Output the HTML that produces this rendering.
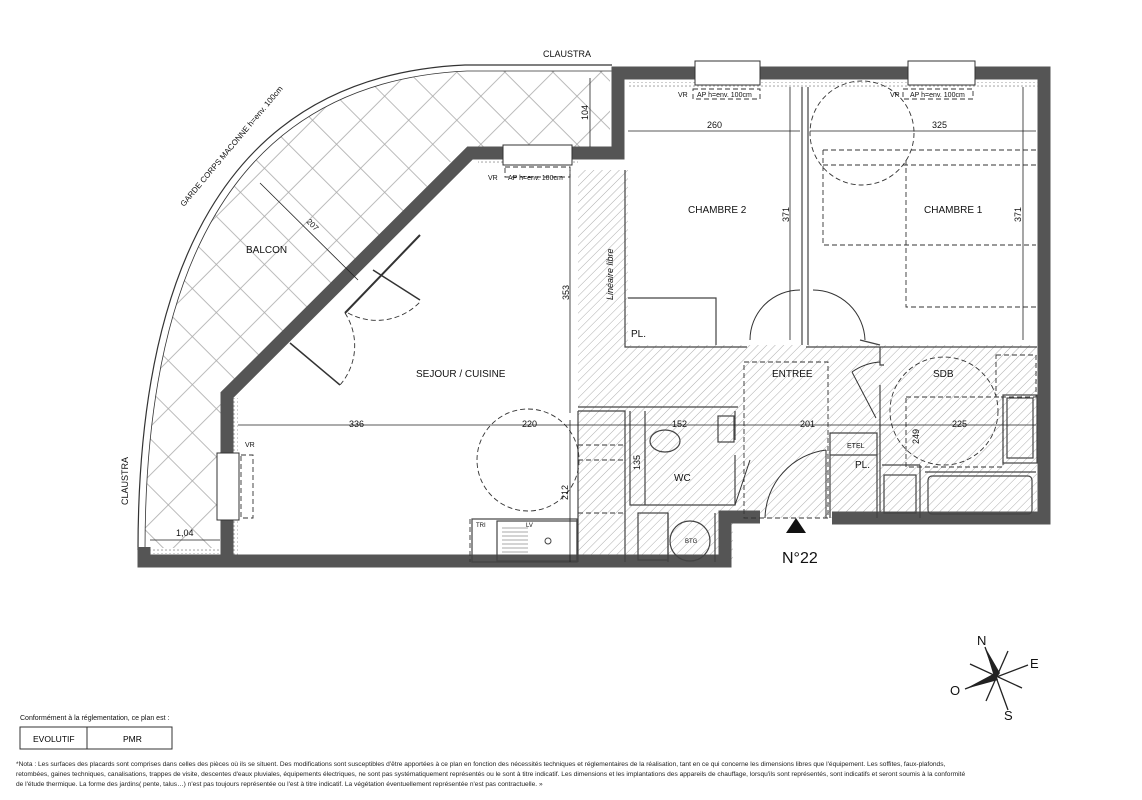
<!DOCTYPE html>
<html><head><meta charset="utf-8"><style>
body{margin:0;background:#fff;}
svg{display:block;font-family:"Liberation Sans",sans-serif;}
</style></head><body>
<svg width="1142" height="800" viewBox="0 0 1142 800" xmlns="http://www.w3.org/2000/svg">
<defs>
<pattern id="h1" width="6" height="6" patternUnits="userSpaceOnUse" patternTransform="rotate(45)">
<line x1="0" y1="0" x2="0" y2="6" stroke="#999" stroke-width="0.8"/></pattern>
<pattern id="grid" width="34" height="34" patternUnits="userSpaceOnUse" patternTransform="rotate(45)">
<rect width="34" height="34" fill="none" stroke="#aaa" stroke-width="0.8"/></pattern>
<pattern id="ins" width="4" height="4" patternUnits="userSpaceOnUse">
<circle cx="2" cy="2" r="0.8" fill="#999"/></pattern>
</defs>
<!-- balcony -->
<path d="M145,548 C145,282 226,82 467,71 L610,71 L610,147 L465,147 L227,393 L227,548 Z" fill="url(#grid)"/>
<path d="M138,550 C138,280 220,76 465,65 L612,65" fill="none" stroke="#333" stroke-width="1.2"/>
<path d="M145,550 C145,282 226,82 467,71 L612,71" fill="none" stroke="#333" stroke-width="0.8"/>
<!-- hatched corridor areas -->
<path d="M578,170 L628,170 L628,345 L880,345 L880,518 L760,518 L760,515 L733,515 L733,562 L578,562 Z" fill="url(#h1)"/>
<path d="M880,345 L1037,345 L1037,512 L880,512 Z" fill="url(#h1)"/>
<!-- insulation strips -->
<rect x="628" y="82" width="410" height="5" fill="url(#ins)"/>
<rect x="478" y="160" width="100" height="5" fill="url(#ins)"/>
<rect x="233" y="398" width="5" height="157" fill="url(#ins)"/>
<rect x="150" y="548" width="77" height="6" fill="url(#ins)"/>
<!-- walls -->
<g fill="none" stroke="#555" stroke-width="13" stroke-linejoin="miter">
<polyline points="144,547 144,561 725,561 725,517 760,517"/>
<polyline points="832,518 1044,518 1044,73 618,73 618,153 470,153 227,395 227,561"/>
</g>
<!-- windows -->
<g fill="#fff" stroke="#333" stroke-width="1">
<rect x="695" y="61" width="65" height="24"/>
<rect x="908" y="61" width="67" height="24"/>
<rect x="503" y="145" width="69" height="20"/>
<rect x="217" y="453" width="22" height="67"/>
</g>
<!-- interior walls -->
<g fill="none" stroke="#444" stroke-width="1.2">
<polyline points="625,170 625,347 747,347"/>
<polyline points="628,298 716,298 716,345"/>
<line x1="802" y1="87" x2="802" y2="345"/><line x1="808" y1="87" x2="808" y2="345"/>
<line x1="806" y1="347" x2="880" y2="347"/>
<polyline points="880,347 1037,347"/>
<polyline points="880,347 880,365 884,365"/>
<line x1="578" y1="407" x2="738" y2="407"/>
<polyline points="578,411 625,411 625,562"/>
<polyline points="630,411 630,505 735,505 735,455"/>
<polyline points="645,411 645,505"/>
<polyline points="735,411 735,440"/>
<line x1="578" y1="411" x2="578" y2="562"/>
<rect x="638" y="513" width="30" height="47"/>
<line x1="668" y1="513" x2="668" y2="562"/>
<line x1="715" y1="513" x2="715" y2="562"/>
<polyline points="830,518 830,433 877,433 877,518"/>
<line x1="830" y1="455" x2="877" y2="455"/>
<polyline points="880,385 880,512"/>
<line x1="882" y1="465" x2="920" y2="465"/>
<line x1="920" y1="465" x2="920" y2="518"/>
<line x1="925" y1="472" x2="1036" y2="472"/>
<rect x="928" y="476" width="104" height="38" rx="4"/>
<rect x="1007" y="398" width="26" height="60"/>
<rect x="1003" y="395" width="34" height="68"/>
<rect x="472" y="519" width="105" height="43"/>
<rect x="497" y="521" width="80" height="40"/>
<rect x="884" y="475" width="32" height="38"/>
<rect x="718" y="416" width="16" height="26"/>
<ellipse cx="665" cy="441" rx="15" ry="11"/>
<circle cx="690" cy="541" r="20"/>
<line x1="860" y1="340" x2="880" y2="345"/>
</g>
<!-- sink -->
<g stroke="#555" stroke-width="0.6">
<line x1="502" y1="528" x2="528" y2="528"/><line x1="502" y1="532" x2="528" y2="532"/><line x1="502" y1="536" x2="528" y2="536"/><line x1="502" y1="540" x2="528" y2="540"/><line x1="502" y1="544" x2="528" y2="544"/><line x1="502" y1="548" x2="528" y2="548"/><line x1="502" y1="552" x2="528" y2="552"/>
</g>
<circle cx="548" cy="541" r="3" fill="none" stroke="#444"/>
<!-- doors -->
<g fill="none" stroke="#333" stroke-width="1">
<path d="M750,340 A50,50 0 0 1 800,290"/>
<path d="M813,290 A52,52 0 0 1 865,340"/>
<path d="M765,518 A70,70 0 0 1 826,450"/>
<line x1="826" y1="450" x2="826" y2="518"/>
<line x1="852" y1="372" x2="876" y2="418"/>
<path d="M852,372 A55,55 0 0 1 880,362"/>
<line x1="750" y1="460" x2="735" y2="505"/>
<line x1="345" y1="313" x2="420" y2="235" stroke-width="2"/>
<line x1="373" y1="270" x2="420" y2="300" stroke-width="1.5"/>
<line x1="290" y1="343" x2="340" y2="385" stroke-width="1.5"/>
</g>
<g fill="none" stroke="#333" stroke-dasharray="5,3" stroke-width="0.9">
<path d="M348,313 A60,60 0 0 0 420,302"/>
<path d="M345,313 A60,60 0 0 1 340,385"/>
<circle cx="528" cy="460" r="51"/>
<circle cx="862" cy="133" r="52"/>
<circle cx="944" cy="411" r="54"/>
<polyline points="823,165 1036,165"/><polyline points="823,150 1036,150"/>
<polyline points="823,150 823,245 1036,245"/>
<polyline points="906,160 906,307 1036,307"/>
<rect x="744" y="362" width="84" height="156"/>
<rect x="906" y="397" width="97" height="70"/>
<rect x="996" y="355" width="40" height="42"/>
<line x1="470" y1="519" x2="470" y2="562"/>
<line x1="578" y1="460" x2="625" y2="460"/><line x1="578" y1="445" x2="625" y2="445"/>
<line x1="578" y1="513" x2="625" y2="513"/>
<rect x="693" y="89" width="67" height="10"/><rect x="903" y="89" width="70" height="10"/><rect x="505" y="167" width="65" height="10"/><rect x="241" y="455" width="12" height="63"/>
</g>
<!-- dimension lines -->
<g stroke="#222" stroke-width="0.8" fill="none">
<line x1="238" y1="425" x2="575" y2="425"/>
<line x1="575" y1="425" x2="1036" y2="425"/>
<line x1="570" y1="170" x2="570" y2="413"/>
<line x1="570" y1="420" x2="570" y2="562"/>
<line x1="628" y1="131" x2="800" y2="131"/>
<line x1="810" y1="131" x2="1036" y2="131"/>
<line x1="790" y1="87" x2="790" y2="340"/>
<line x1="1023" y1="87" x2="1023" y2="340"/>
<line x1="590" y1="78" x2="590" y2="147"/>
<line x1="150" y1="540" x2="220" y2="540"/>
<line x1="260" y1="183" x2="358" y2="280"/>
</g>
<!-- labels -->
<g fill="#111" font-size="10">
<text x="246" y="253">BALCON</text>
<text x="416" y="377">SEJOUR / CUISINE</text>
<text x="688" y="213">CHAMBRE 2</text>
<text x="924" y="213">CHAMBRE 1</text>
<text x="772" y="377">ENTREE</text>
<text x="933" y="377">SDB</text>
<text x="674" y="481">WC</text>
<text x="631" y="337">PL.</text>
<text x="855" y="468">PL.</text>
<text x="349" y="427" font-size="9">336</text>
<text x="522" y="427" font-size="9">220</text>
<text x="672" y="427" font-size="9">152</text>
<text x="800" y="427" font-size="9">201</text>
<text x="952" y="427" font-size="9">225</text>
<text x="707" y="128" font-size="9">260</text>
<text x="932" y="128" font-size="9">325</text>
<text x="176" y="536" font-size="9">1,04</text>
<text x="847" y="448" font-size="7">ETEL</text>
<text x="685" y="543" font-size="6">BTG</text>
<text x="476" y="527" font-size="6">TRI</text>
<text x="526" y="527" font-size="6">LV</text>
<text x="678" y="97" font-size="7">VR</text><text x="697" y="97" font-size="7">AP h=env. 100cm</text>
<text x="890" y="97" font-size="7">VR</text><text x="910" y="97" font-size="7">AP h=env. 100cm</text>
<text x="488" y="180" font-size="7">VR</text><text x="508" y="180" font-size="7">AP h=env. 100cm</text>
<text x="245" y="447" font-size="7">VR</text>
<text x="543" y="57" font-size="9">CLAUSTRA</text>
<text x="782" y="563" font-size="16">N°22</text>
<text x="20" y="720" font-size="7">Conformément à la réglementation, ce plan est :</text>
</g>
<g fill="#111" font-size="9">
<text transform="translate(569,300) rotate(-90)">353</text>
<text transform="translate(789,222) rotate(-90)">371</text>
<text transform="translate(1021,222) rotate(-90)">371</text>
<text transform="translate(588,120) rotate(-90)">104</text>
<text transform="translate(568,500) rotate(-90)">212</text>
<text transform="translate(640,470) rotate(-90)">135</text>
<text transform="translate(919,444) rotate(-90)">249</text>
<text transform="translate(613,300) rotate(-90)" font-style="italic">Linéaire libre</text>
<text transform="translate(128,505) rotate(-90)">CLAUSTRA</text>
<text transform="translate(184,207) rotate(-50)" font-size="8">GARDE CORPS MACONNE h=env. 100cm</text>
<text transform="translate(306,222) rotate(45)" font-size="8">207</text>
</g>
<polygon points="786,533 796,518 806,533" fill="#111"/>
<!-- compass -->
<g stroke="#222" stroke-width="1.3">
<line x1="985" y1="647" x2="1008" y2="710"/>
<line x1="965" y1="689" x2="1028" y2="665"/>
<line x1="970" y1="664" x2="1022" y2="688"/>
<line x1="1008" y1="651" x2="986" y2="701"/>
</g>
<polygon points="985,647 1000,673 995,680" fill="#222"/>
<polygon points="965,689 995,673 998,680" fill="#222"/>
<g font-size="13" fill="#111"><text x="977" y="645">N</text><text x="1030" y="668">E</text><text x="950" y="695">O</text><text x="1004" y="720">S</text></g>
<!-- bottom box -->
<rect x="20" y="727" width="152" height="22" fill="none" stroke="#333"/>
<line x1="87" y1="727" x2="87" y2="749" stroke="#333"/>
<text x="33" y="742" font-size="8.5">EVOLUTIF</text><text x="123" y="742" font-size="8.5">PMR</text>
<g font-size="6.6" fill="#222">
<text x="16" y="766">*Nota : Les surfaces des placards sont comprises dans celles des pièces où ils se situent. Des modifications sont susceptibles d'être apportées à ce plan en fonction des nécessités techniques et réglementaires de la réalisation, tant en ce qui concerne les dimensions libres que l'équipement.  Les soffites, faux-plafonds,</text>
<text x="16" y="776">retombées, gaines techniques, canalisations, trappes de visite, descentes d'eaux pluviales, équipements électriques, ne sont pas systématiquement représentés ou le sont à titre indicatif. Les dimensions et les implantations des appareils de chauffage, lorsqu'ils sont représentés, sont indicatifs et seront soumis à la conformité</text>
<text x="16" y="786">de l'étude thermique. La forme des jardins( pente, talus…) n'est pas toujours représentée ou l'est à titre indicatif. La végétation éventuellement représentée n'est pas contractuelle. »</text>
</g>
</svg>
</body></html>
